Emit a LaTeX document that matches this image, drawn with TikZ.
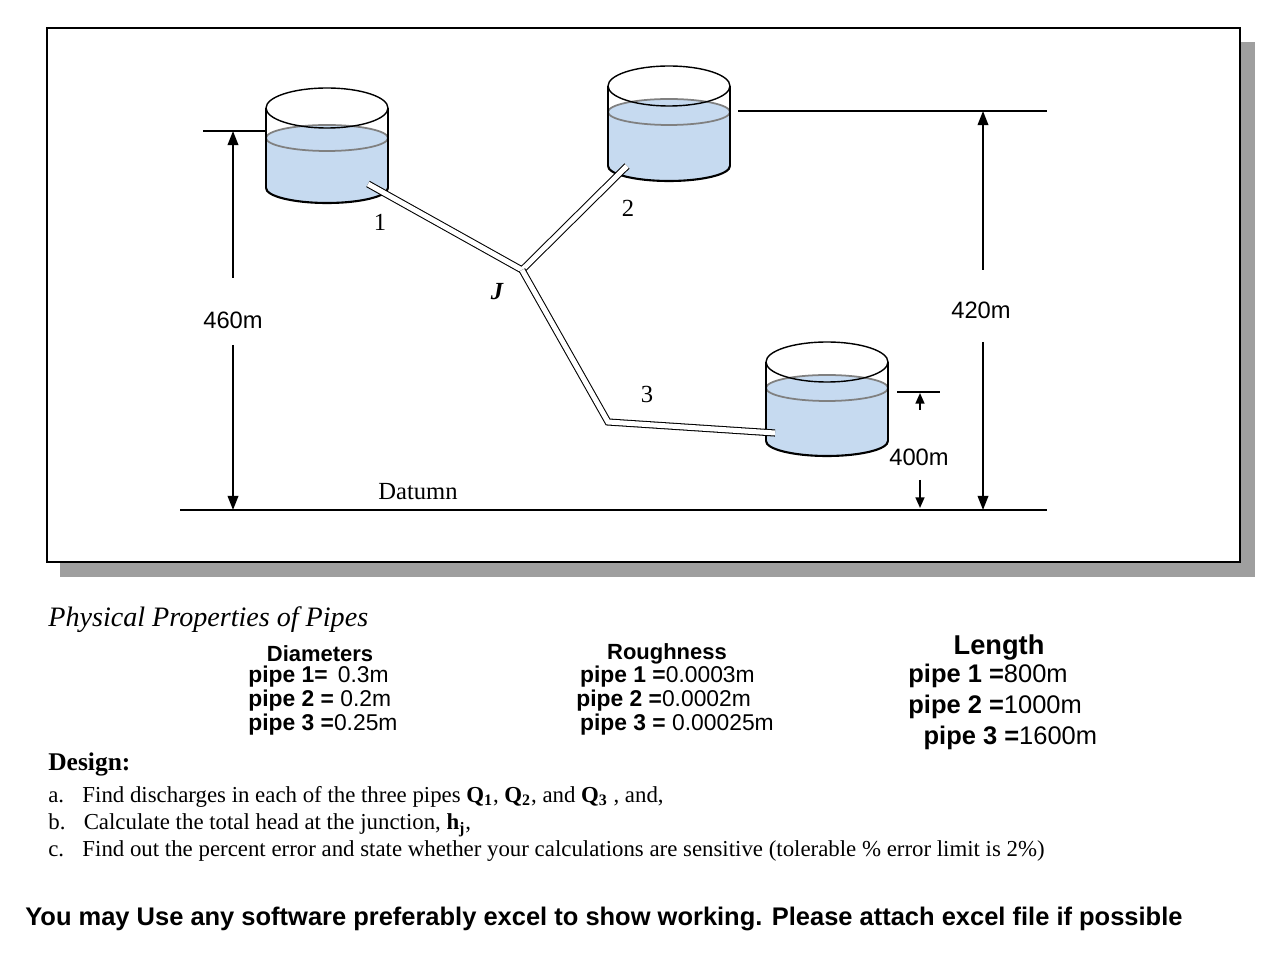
\documentclass[tikz,border=0pt]{standalone}
\usepackage{fontspec}
\setmainfont{Liberation Serif}
\setsansfont{Liberation Sans}
\usetikzlibrary{arrows.meta}
\definecolor{water}{RGB}{198,218,240}
\begin{document}
\begin{tikzpicture}[x=0.02cm,y=-0.02cm,
        dim/.style={line width=1pt,-{Triangle[length=8pt,width=6pt]}},
        pipe/.style={double=white,double distance=0.1cm,line width=0.6pt,line join=miter},
        sans/.style={font=\sffamily\fontsize{13.5}{15}\selectfont,inner sep=0pt},
        tab/.style={font=\sffamily\fontsize{13}{13.5}\selectfont,align=left,inner sep=0pt}]

        \useasboundingbox (0,0) rectangle (1269,979);

        % frame with shadow
        \fill[gray!75] (60,42) rectangle (1255,577);
        \draw[fill=white,line width=0.8pt] (47,28) rectangle (1240,562);

        % tanks: left x / top / water / bottom
        \foreach \L/\T/\W/\B/\n in {266/108/138/188/A, 608/86/112/166/B, 766/362/388/441/C}{
          \fill[water] (\L,\W) rectangle (\L+122,\B);
          \fill[water] (\L+61,\B) ellipse [x radius=1.22cm,y radius=0.3cm];
          \fill[water] (\L+61,\W) ellipse [x radius=1.22cm,y radius=0.26cm];
          \draw[gray,line width=1pt] (\L+61,\W) ellipse [x radius=1.22cm,y radius=0.26cm];
          \draw[line width=1.2pt] (\L,\B) arc [start angle=180,end angle=360,x radius=1.22cm,y radius=0.3cm];
          \draw[line width=0.6pt] (\L,\T) -- (\L,\B) (\L+122,\T) -- (\L+122,\B);
          \draw[line width=0.8pt] (\L+61,\T) ellipse [x radius=1.22cm,y radius=0.4cm];
          \coordinate (\n) at (\L+61,\T);
        }

        % pipes
        \coordinate (p1) at (368,184);
        \coordinate (J) at (522,270);
        \coordinate (p2) at (627,166);
        \coordinate (bend) at (608,422);
        \coordinate (p3) at (775,433);
        \draw[pipe] (p1) -- (J) -- (p2);
        \draw[pipe] (J) -- (bend) -- (p3);

        \node[font=\fontsize{14}{16}\selectfont] (n1) at (380,222) {1};
        \node[font=\fontsize{14}{16}\selectfont] (n2) at (628,208) {2};
        \node[font=\fontsize{14}{16}\selectfont] (n3) at (647,394) {3};
        \node[font=\bfseries\itshape\fontsize{14}{16}\selectfont] (nJ) at (497,292) {J};

        % datum and levels
        \coordinate (d1) at (180,510);
        \coordinate (d2) at (1047,510);
        \draw[line width=0.8pt] (d1) -- (d2);
        \node[font=\fontsize{14}{16}\selectfont] (datum) at (418,492) {Datumn};
        \draw[line width=0.8pt] (203,131) -- (266,131);
        \draw[line width=0.8pt] (738,111) -- (1047,111);
        \draw[line width=0.8pt] (897,392) -- (940,392);

        \node[sans] (h1) at (233,320) {460m};
        \node[sans] (h2) at (981,310) {420m};
        \node[sans] (h3) at (919,457) {400m};
        \draw[dim] (233,278) -- (233,131);
        \draw[dim] (233,345) -- (233,510);
        \draw[dim] (983,270) -- (983,111);
        \draw[dim] (983,342) -- (983,510);
        \draw[dim,-{Triangle[length=6pt,width=5pt]}] (920,410) -- (920,393);
        \draw[dim,-{Triangle[length=6pt,width=5pt]}] (920,480) -- (920,508);

        % properties
        \node[anchor=west,font=\itshape\fontsize{16}{18}\selectfont,inner sep=0pt] (props) at (48,620) {Physical Properties of Pipes};
        \node[tab,font=\sffamily\bfseries\fontsize{12.5}{13.5}\selectfont] (dh) at (320,654) {Diameters};
        \node[tab,anchor=north west] (dia) at (248,666) {\textbf{pipe 1=} \,0.3m\\\textbf{pipe 2 =} 0.2m\\\textbf{pipe 3 =}0.25m};
        \node[tab,font=\sffamily\bfseries\fontsize{12.5}{13.5}\selectfont] (rh) at (667,654) {Roughness};
        \node[tab,anchor=north west] (rou) at (576,666) {\,\textbf{pipe 1 =}0.0003m\\\textbf{pipe 2 =}0.0002m\\\,\textbf{pipe 3 =} 0.00025m};
        \node[tab,font=\sffamily\bfseries\fontsize{15.5}{17}\selectfont] (lh) at (999,648) {Length};
        \node[tab,anchor=north west,font=\sffamily\fontsize{14.5}{17.5}\selectfont] (len) at (908,664) {\textbf{pipe 1 =}800m\\\textbf{pipe 2 =}1000m\\\hspace*{0.6em}\textbf{pipe 3 =}1600m};

        % design
        \node[anchor=west,font=\bfseries\fontsize{14.5}{16}\selectfont,inner sep=0pt] (design) at (48,764) {Design:};
        \node[anchor=north west,font=\fontsize{13}{15.3}\selectfont,inner sep=0pt,align=left] (tasks) at (48,786)
          {a.\hspace{0.8em}Find discharges in each of the three pipes \textbf{Q\textsubscript{1}}, \textbf{Q\textsubscript{2}}, and \textbf{Q\textsubscript{3}} , and,\\
           b.\hspace{0.8em}Calculate the total head at the junction, \textbf{h\textsubscript{j}},\\
           c.\hspace{0.8em}Find out the percent error and state whether your calculations are sensitive (tolerable \% error limit is 2\%)};
        \node[anchor=west,font=\sffamily\bfseries\fontsize{14.5}{16}\selectfont,inner sep=0pt] (note) at (25,919)
          {You may Use any software preferably excel to show working. Please attach excel file if possible};
\end{tikzpicture}
\end{document}
